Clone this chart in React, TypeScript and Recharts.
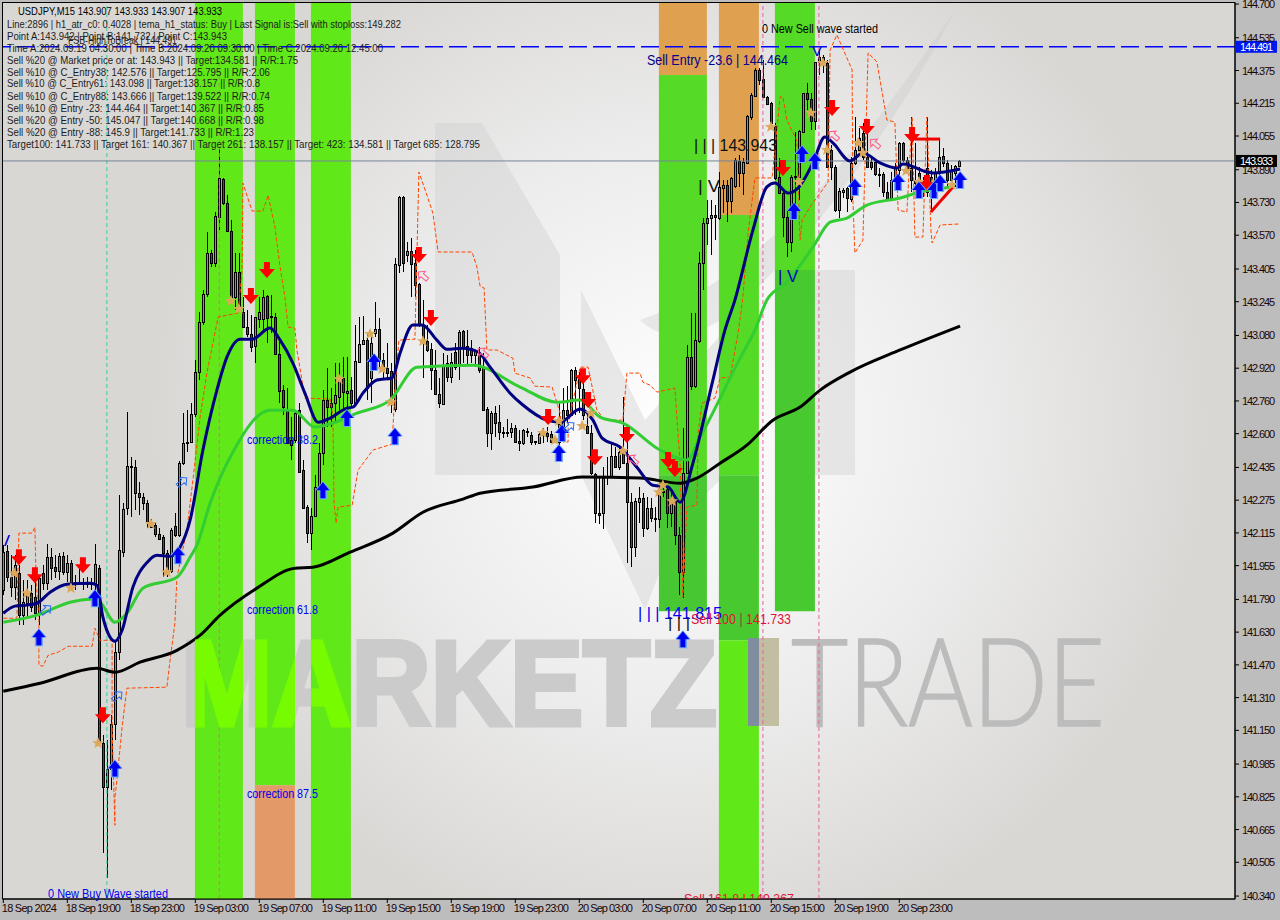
import React from 'react';
import {
  ComposedChart,
  Bar,
  Line,
  Scatter,
  XAxis,
  YAxis,
  ReferenceArea,
  ReferenceLine,
} from 'recharts';

// USDJPY M15 candles, one value per bar
const opens = [
  141.835, 142.026, 141.898, 141.85, 141.918, 141.713, 141.771, 141.82, 141.801, 141.722, 141.918, 141.869, 141.996, 141.947, 141.928, 142.001, 141.923, 141.967, 141.874, 141.869,
  141.869, 141.869, 141.864, 141.869, 141.942, 141.087, 140.872, 140.96, 141.18, 141.532, 142.021, 142.236, 142.436, 142.436, 142.309, 142.29, 142.26, 142.167, 142.153, 142.109,
  142.094, 142.016, 141.928, 142.148, 142.104, 142.456, 142.554, 142.559, 142.696, 142.901, 143.145, 143.282, 143.483, 143.434, 143.659, 143.845, 143.727, 143.59, 143.268, 143.39,
  143.194, 143.121, 143.087, 143.028, 143.16, 143.16, 143.273, 143.175, 143.17, 142.989, 142.813, 142.71, 142.568, 142.568, 142.715, 142.422, 142.241, 142.114, 142.197, 142.339,
  142.505, 142.764, 142.749, 142.749, 142.779, 142.872, 142.798, 142.813, 142.749, 142.95, 143.038, 143.057, 142.872, 143.092, 143.111, 142.96, 142.92, 142.906, 142.72, 143.424,
  143.757, 143.473, 143.493, 143.434, 143.331, 143.131, 143.052, 143.013, 142.911, 142.793, 142.744, 142.945, 142.876, 142.999, 142.93, 143.101, 143.028, 143.018, 142.984, 142.984,
  142.92, 142.72, 142.603, 142.7, 142.656, 142.608, 142.608, 142.608, 142.627, 142.564, 142.554, 142.612, 142.593, 142.564, 142.554, 142.612, 142.603, 142.598, 142.578, 142.559,
  142.627, 142.715, 142.691, 142.911, 142.867, 142.818, 142.637, 142.603, 142.402, 142.211, 142.211, 142.387, 142.387, 142.49, 142.436, 142.51, 142.456, 142.265, 142.045, 142.265,
  142.285, 142.138, 142.236, 142.187, 142.182, 142.314, 142.329, 142.211, 142.275, 142.104, 141.923, 142.407, 142.974, 142.832, 143.052, 143.434, 143.63, 143.654, 143.669, 143.654,
  143.801, 143.815, 143.737, 143.81, 143.933, 143.874, 143.923, 144.148, 144.251, 144.378, 144.334, 144.246, 144.216, 144.104, 143.854, 143.776, 143.659, 143.537, 143.854, 143.854,
  144.075, 144.265, 144.236, 144.128, 144.417, 144.441, 144.412, 143.987, 143.903, 143.693, 143.781, 143.801, 143.747, 143.923, 143.987, 144.07, 143.952, 143.928, 143.928, 143.869,
  143.869, 143.781, 143.752, 143.84, 143.889, 144.021, 143.938, 143.898, 143.84, 143.874, 143.83, 143.898, 143.854, 143.806, 143.874, 143.957, 143.923, 143.84, 143.874, 143.908,
];
const highs = [
  142.055, 142.055, 142.006, 142.006, 141.957, 141.884, 141.884, 141.859, 141.884, 141.908, 141.957, 142.06, 142.04, 142.006, 142.016, 142.021, 142.006, 141.982, 141.908, 141.942,
  141.894, 141.898, 141.894, 142.06, 141.957, 141.126, 141.101, 141.224, 141.59, 142.299, 142.26, 142.705, 142.485, 142.471, 142.363, 142.309, 142.275, 142.182, 142.167, 142.138,
  142.104, 142.031, 142.138, 142.211, 142.466, 142.7, 142.715, 142.749, 142.96, 143.194, 143.302, 143.586, 143.498, 143.683, 143.996, 143.85, 143.766, 143.644, 143.483, 143.483,
  143.268, 143.204, 143.18, 143.17, 143.268, 143.302, 143.277, 143.277, 143.189, 143.048, 142.837, 142.823, 142.681, 142.715, 142.749, 142.471, 142.25, 142.236, 142.397, 142.554,
  142.813, 142.92, 142.823, 142.945, 142.945, 142.974, 142.974, 142.876, 143.131, 143.17, 143.175, 143.097, 143.082, 143.243, 143.165, 142.994, 143.043, 142.945, 143.458, 143.762,
  143.762, 143.537, 143.556, 143.498, 143.336, 143.253, 143.131, 143.043, 143.009, 142.872, 142.994, 142.984, 142.994, 143.043, 143.106, 143.106, 143.106, 143.057, 143.009, 143.023,
  142.994, 142.73, 142.71, 142.735, 142.74, 142.632, 142.671, 142.652, 142.642, 142.617, 142.622, 142.627, 142.608, 142.564, 142.603, 142.627, 142.632, 142.612, 142.583, 142.749,
  142.823, 142.832, 142.916, 142.925, 142.901, 142.862, 142.7, 142.642, 142.407, 142.383, 142.436, 142.485, 142.554, 142.534, 142.544, 142.779, 142.632, 142.309, 142.285, 142.339,
  142.309, 142.29, 142.285, 142.241, 142.358, 142.363, 142.339, 142.309, 142.29, 142.143, 142.627, 143.033, 143.189, 143.189, 143.488, 143.654, 143.742, 143.742, 143.717, 143.879,
  143.84, 143.84, 143.854, 143.947, 143.962, 143.947, 144.158, 144.265, 144.387, 144.387, 144.427, 144.251, 144.221, 144.119, 143.947, 143.791, 143.693, 143.864, 144.075, 144.084,
  144.265, 144.314, 144.265, 144.417, 144.476, 144.451, 144.427, 144.011, 143.913, 143.801, 143.801, 143.806, 143.952, 144.148, 144.094, 144.119, 144.094, 143.947, 143.938, 143.898,
  143.879, 143.83, 143.879, 143.923, 144.026, 144.026, 143.952, 144.148, 144.021, 143.903, 143.854, 144.148, 143.889, 143.898, 144.035, 143.996, 143.938, 143.913, 143.913, 143.938,
];
const lows = [
  141.81, 141.874, 141.801, 141.786, 141.664, 141.664, 141.698, 141.727, 141.688, 141.664, 141.835, 141.835, 141.884, 141.894, 141.884, 141.908, 141.874, 141.835, 141.835, 141.859,
  141.835, 141.845, 141.835, 141.835, 141.077, 140.549, 140.427, 140.857, 141.101, 141.493, 141.996, 142.202, 142.192, 142.226, 142.202, 142.226, 142.138, 142.138, 142.094, 142.079,
  141.898, 141.898, 141.918, 142.094, 142.094, 142.446, 142.51, 142.554, 142.681, 142.862, 143.131, 143.268, 143.414, 143.414, 143.595, 143.717, 143.586, 143.268, 143.204, 143.204,
  143.121, 143.072, 142.999, 142.945, 143.116, 143.106, 143.043, 143.092, 142.984, 142.749, 142.691, 142.554, 142.471, 142.554, 142.412, 142.236, 142.065, 142.031, 142.192, 142.29,
  142.446, 142.632, 142.632, 142.656, 142.715, 142.715, 142.7, 142.73, 142.74, 142.945, 143.033, 142.764, 142.749, 143.072, 142.925, 142.872, 142.862, 142.7, 142.705, 143.385,
  143.39, 143.439, 143.268, 143.268, 143.121, 142.872, 142.999, 142.813, 142.788, 142.725, 142.74, 142.852, 142.847, 142.911, 142.862, 142.945, 142.935, 142.945, 142.935, 142.896,
  142.715, 142.534, 142.52, 142.583, 142.568, 142.578, 142.583, 142.578, 142.559, 142.515, 142.544, 142.583, 142.544, 142.544, 142.554, 142.554, 142.559, 142.554, 142.554, 142.534,
  142.608, 142.652, 142.691, 142.691, 142.7, 142.666, 142.598, 142.397, 142.163, 142.158, 142.133, 142.348, 142.383, 142.431, 142.422, 142.451, 141.967, 141.947, 141.996, 142.163,
  142.094, 142.128, 142.167, 142.118, 142.138, 142.29, 142.138, 142.143, 142.055, 141.81, 141.796, 142.402, 142.813, 142.823, 143.043, 143.302, 143.522, 143.473, 143.546, 143.644,
  143.678, 143.634, 143.678, 143.801, 143.806, 143.766, 143.918, 144.133, 144.246, 144.304, 144.241, 144.207, 144.109, 143.84, 143.771, 143.561, 143.463, 143.488, 143.708, 143.742,
  144.07, 144.182, 144.084, 144.084, 144.353, 144.363, 143.903, 143.84, 143.683, 143.654, 143.752, 143.683, 143.732, 143.913, 143.977, 143.938, 143.903, 143.889, 143.859, 143.806,
  143.757, 143.742, 143.742, 143.83, 143.806, 143.928, 143.889, 143.781, 143.791, 143.757, 143.757, 143.757, 143.683, 143.757, 143.854, 143.903, 143.806, 143.825, 143.806, 143.908,
];
const closes = [
  142.021, 141.898, 141.85, 141.957, 141.713, 141.776, 141.82, 141.752, 141.722, 141.894, 141.869, 141.996, 141.942, 141.928, 142.001, 141.923, 141.967, 141.869, 141.869, 141.874,
  141.864, 141.864, 141.869, 141.962, 141.087, 140.872, 140.96, 141.18, 141.532, 142.031, 142.231, 142.441, 142.441, 142.309, 142.29, 142.26, 142.167, 142.143, 142.109, 142.084,
  142.016, 141.928, 142.128, 142.104, 142.456, 142.554, 142.559, 142.696, 142.901, 143.145, 143.282, 143.483, 143.434, 143.664, 143.85, 143.727, 143.59, 143.268, 143.39, 143.219,
  143.121, 143.087, 143.023, 143.17, 143.194, 143.268, 143.165, 143.17, 142.989, 142.808, 142.73, 142.554, 142.544, 142.7, 142.412, 142.236, 142.114, 142.197, 142.339, 142.505,
  142.764, 142.73, 142.73, 142.788, 142.867, 142.803, 142.808, 142.749, 142.955, 143.038, 143.057, 142.823, 143.043, 143.111, 142.96, 142.911, 142.896, 142.774, 143.429, 143.757,
  143.434, 143.493, 143.429, 143.326, 143.131, 143.062, 143.009, 142.911, 142.793, 142.749, 142.935, 142.876, 142.95, 142.925, 143.097, 143.023, 142.984, 142.984, 143.004, 142.911,
  142.715, 142.603, 142.7, 142.652, 142.608, 142.603, 142.603, 142.627, 142.559, 142.554, 142.617, 142.608, 142.559, 142.559, 142.598, 142.593, 142.588, 142.559, 142.564, 142.647,
  142.715, 142.691, 142.911, 142.862, 142.823, 142.691, 142.603, 142.407, 142.211, 142.202, 142.383, 142.392, 142.49, 142.436, 142.51, 142.456, 142.265, 142.045, 142.27, 142.285,
  142.138, 142.236, 142.187, 142.182, 142.314, 142.319, 142.211, 142.275, 142.104, 141.923, 142.407, 142.974, 142.832, 143.057, 143.434, 143.63, 143.654, 143.669, 143.659, 143.806,
  143.815, 143.737, 143.85, 143.938, 143.874, 143.928, 144.153, 144.255, 144.378, 144.329, 144.246, 144.211, 144.119, 143.85, 143.776, 143.659, 143.537, 143.854, 143.859, 144.079,
  144.265, 144.236, 144.128, 144.417, 144.441, 144.412, 143.903, 143.903, 143.693, 143.786, 143.791, 143.752, 143.923, 143.987, 144.045, 143.952, 143.903, 143.903, 143.869, 143.864,
  143.781, 143.747, 143.84, 143.903, 144.021, 143.938, 143.898, 143.84, 143.825, 143.806, 143.791, 143.781, 143.757, 143.874, 143.952, 143.923, 143.84, 143.889, 143.908, 143.933,
];

// moving averages, read at the bends only
const navyAt = [0, 2.9, 5.9, 8.4, 11.7, 15.9, 21.7, 23.4, 24.9, 26.7, 27.9, 29.7, 32.4, 36, 38.4, 41.7, 44.2, 46.7, 49.9, 53.4, 55.9, 59.2, 62.2, 66.7, 69.2, 72.4, 75.4, 78.7, 81.7, 85.9, 87.4, 89.9, 93.4, 97.2, 99.2, 102.4, 104.7, 108.4, 110.9, 114.9, 118.7, 121.7, 126.7, 129.9, 135.9, 139.2, 144.2, 147.4, 149.7, 154.2, 158.4, 162.4, 166.2, 169.2, 172.4, 177.4, 180.4, 182.9, 187.4, 190.9, 192.9, 196.2, 198.7, 202.4, 205.4, 207.4, 211.7, 214.9, 219.2, 223.4, 224.9, 230.9, 232.4, 239.2];
const navyPrice = [141.722, 141.757, 141.762, 141.771, 141.825, 141.864, 141.869, 141.859, 141.703, 141.605, 141.585, 141.639, 141.85, 141.972, 142.006, 142.001, 142.045, 142.177, 142.52, 142.813, 142.974, 143.062, 143.062, 143.116, 143.057, 142.945, 142.798, 142.656, 142.676, 142.725, 142.73, 142.798, 142.862, 142.872, 142.994, 143.131, 143.131, 143.057, 143.013, 143.018, 142.999, 142.925, 142.798, 142.74, 142.666, 142.656, 142.72, 142.666, 142.578, 142.534, 142.436, 142.348, 142.339, 142.265, 142.456, 142.862, 143.106, 143.253, 143.595, 143.806, 143.825, 143.776, 143.801, 143.923, 144.05, 144.021, 143.933, 143.972, 143.923, 143.898, 143.918, 143.879, 143.874, 143.894];
const greenAt = [0, 8.4, 16.7, 21.7, 24.2, 27.9, 30.9, 34.9, 43.4, 46.7, 48.4, 51.7, 57.4, 66.7, 72.4, 77.9, 82.4, 88.4, 96.7, 103.4, 117.4, 129.2, 138.4, 144.2, 149.2, 154.9, 164.2, 170.9, 174.2, 184.2, 187.9, 190.9, 195.9, 202.4, 206.7, 210.9, 215.9, 224.2, 229.2, 237.2];
const greenPrice = [141.678, 141.713, 141.776, 141.791, 141.776, 141.678, 141.722, 141.845, 141.898, 141.996, 142.055, 142.26, 142.51, 142.715, 142.715, 142.632, 142.652, 142.7, 142.764, 142.925, 142.935, 142.828, 142.754, 142.764, 142.681, 142.652, 142.52, 142.471, 142.583, 142.969, 143.106, 143.253, 143.341, 143.512, 143.634, 143.654, 143.717, 143.752, 143.781, 143.806];
const blackAt = [0, 9.2, 23.4, 27.9, 34.2, 43.4, 49.2, 54.2, 63.4, 72.9, 77.4, 86.7, 97.4, 104.9, 114.9, 119.2, 132.4, 144.9, 159.2, 169.2, 173.4, 179.2, 185.9, 192.4, 199.2, 204.2, 211.7, 224.2, 239.2];
const blackPrice = [141.341, 141.38, 141.453, 141.434, 141.483, 141.541, 141.615, 141.713, 141.845, 141.942, 141.947, 142.021, 142.114, 142.216, 142.28, 142.309, 142.339, 142.388, 142.383, 142.358, 142.383, 142.456, 142.544, 142.666, 142.73, 142.813, 142.901, 143.009, 143.126];

// stepped stop line
const stopAt = [0, 1.7, 3.4, 3.9, 7.2, 7.9, 8.2, 8.9, 8.9, 9.9, 11.2, 13.7, 16.2, 22.2, 22.9, 24.2, 27.2, 27.2, 27.9, 27.9, 28.4, 29.7, 30.9, 40.9, 41.7, 42.9, 43.4, 45.9, 47.4, 49.2, 50.9, 53.7, 58.7, 59.7, 59.9, 62.2, 64.9, 66.2, 67.9, 69.2, 70.4, 71.2, 72.9, 73.4, 75.4, 81.7, 82.4, 82.7, 83.2, 83.7, 87.2, 88.7, 92.4, 97.2, 97.9, 98.9, 102.9, 103.9, 105.9, 107.4, 108.7, 117.2, 118.4, 119.2, 120.2, 120.9, 123.4, 127.4, 127.9, 131.7, 132.9, 137.2, 139.2, 139.9, 141.2, 141.2, 144.2, 146.2, 148.4, 150.4, 154.9, 155.9, 159.2, 159.9, 161.7, 163.4, 167.9, 169.2, 169.9, 170.9, 173.4, 173.7, 174.7, 177.9, 179.2, 181.7, 183.7, 184.9, 186.2, 187.9, 192.2, 194.2, 194.9, 195.9, 198.4, 199.2, 199.7, 201.7, 206.2, 206.7, 208.4, 212.2, 212.4, 212.9, 214.9, 216.2, 218.4, 220.9, 222.9, 223.7, 225.9, 227.2, 227.9, 229.9, 230.9, 231.9, 232.2, 234.2, 239];
const stopPrice = [141.698, 141.698, 141.698, 142.114, 142.114, 142.143, 141.884, 141.688, 141.468, 141.463, 141.517, 141.532, 141.561, 141.561, 141.649, 141.59, 141.59, 141.165, 140.686, 140.823, 140.906, 141.165, 141.356, 141.361, 141.493, 141.674, 141.898, 142.128, 142.373, 142.681, 142.896, 143.17, 143.19, 143.4, 143.825, 143.688, 143.688, 143.766, 143.61, 143.414, 143.268, 143.121, 143.116, 143.009, 142.774, 142.769, 142.681, 142.26, 142.163, 142.241, 142.25, 142.422, 142.52, 142.549, 142.813, 143.057, 143.062, 143.879, 143.766, 143.678, 143.488, 143.488, 143.414, 143.321, 143.312, 143.009, 143.009, 142.969, 142.896, 142.872, 142.832, 142.828, 142.7, 142.559, 142.559, 142.642, 142.925, 142.925, 142.715, 142.666, 142.666, 142.896, 142.896, 142.852, 142.837, 142.803, 142.823, 142.456, 141.801, 142.241, 142.25, 142.603, 142.749, 142.774, 142.872, 142.877, 143.092, 143.268, 143.581, 143.85, 143.85, 144.246, 144.246, 144.133, 144.031, 143.546, 143.644, 143.708, 143.83, 144.476, 144.549, 144.378, 143.742, 143.483, 143.546, 144.461, 144.417, 144.133, 144.123, 143.693, 143.683, 144.148, 143.561, 143.561, 144.148, 143.595, 143.532, 143.62, 143.625];

// signal marks
const sellAt = [3.9, 7.9, 19.9, 24.9, 61.9, 65.9, 103.9, 106.9, 136.2, 144.9, 146.2, 147.9, 155.9, 166.2, 167.9, 194.9, 207.2, 215.9, 227.2, 230.9];
const sellPrice = [141.996, 141.908, 141.957, 141.224, 143.273, 143.4, 143.473, 143.165, 142.681, 142.881, 142.764, 142.485, 142.593, 142.471, 142.427, 143.898, 144.192, 144.099, 144.06, 143.825];
const buyAt = [8.9, 22.9, 43.7, 27.9, 79.9, 85.9, 92.7, 97.9, 138.9, 139.7, 169.9, 197.7, 199.7, 202.9, 212.9, 223.7, 228.9, 232.7, 234.2, 239.2];
const buyPrice = [141.605, 141.796, 142.006, 140.964, 142.324, 142.676, 142.95, 142.588, 142.505, 142.603, 141.595, 143.688, 143.967, 143.933, 143.806, 143.83, 143.791, 143.791, 143.825, 143.84];
const starAt = [2.7, 5.9, 16.9, 23.7, 36.9, 40.9, 56.9, 58.9, 83.9, 91.7, 94.7, 96.9, 104.9, 134.9, 137.9, 138.9, 144.7, 146.9, 154.9, 163.9, 164.9, 167.2, 191.9, 198.9, 201.9, 204.9, 205.9, 213.7, 214.9, 225.7, 228.9, 232.4, 237.2];
const starPrice = [141.918, 141.82, 141.845, 141.087, 142.158, 141.923, 143.248, 143.209, 142.867, 143.087, 142.916, 142.754, 143.052, 142.603, 142.568, 142.661, 142.637, 142.7, 142.515, 142.314, 142.348, 142.27, 144.099, 143.83, 144.167, 144.412, 143.987, 144.021, 143.972, 143.884, 143.83, 143.82, 143.815];
const pinkHintAt = [104.7, 119.7, 157.2, 207.4, 217.7];
const pinkHintPrice = [143.375, 142.999, 142.476, 144.06, 144.021];
const blueHintAt = [10.9, 44.9, 28.7, 141.7];
const blueHintPrice = [141.742, 142.368, 141.321, 142.637];

// red pattern lines at the right end
const flatAt = [227.9, 234.2];
const flatPrice = [144.04, 144.04];
const riseAt = [231.9, 237.4];
const risePrice = [143.683, 143.806];

// zone rectangles in bars and prices
const zoneFrom = [47.9, 62.9, 62.9, 76.9, 163.9, 163.9, 163.9, 178.9, 178.9, 178.9, 178.9, 192.9, 192.9];
const zoneTo = [59.9, 72.9, 72.9, 86.9, 175.9, 175.9, 175.9, 188.9, 188.9, 188.9, 188.9, 202.9, 202.9];
const zoneTop = [144.705, 144.705, 140.881, 144.705, 144.705, 144.353, 142.397, 144.705, 143.669, 142.397, 141.59, 144.705, 143.4];
const zoneBottom = [140.326, 140.881, 140.326, 140.326, 144.353, 142.397, 141.732, 143.669, 142.397, 141.59, 140.326, 143.4, 141.732];
const zoneColors = ['#60e818', '#60e818', '#e49a68', '#60e818', '#dfa050', '#55da25', '#47c832', '#dfa050', '#55da25', '#48c930', '#60e818', '#55da25', '#48c930'];

const priceTicks = [144.7, 144.535, 144.375, 144.215, 144.055, 143.89, 143.73, 143.57, 143.405, 143.245, 143.08, 142.92, 142.76, 142.6, 142.435, 142.275, 142.115, 141.955, 141.79, 141.63, 141.47, 141.31, 141.15, 140.985, 140.825, 140.665, 140.505, 140.34];
const timeTicks = [0, 16, 32, 48, 64, 80, 96, 112, 128, 144, 160, 176, 192, 208, 224];
const timeLabels = ['18 Sep 2024', '18 Sep 19:00', '18 Sep 23:00', '19 Sep 03:00', '19 Sep 07:00', '19 Sep 11:00', '19 Sep 15:00', '19 Sep 19:00', '19 Sep 23:00', '20 Sep 03:00', '20 Sep 07:00', '20 Sep 11:00', '20 Sep 15:00', '20 Sep 19:00', '20 Sep 23:00'];
const dashedBars = [25.9, 54, 189.9, 203.9];

const infoLines = [
  'Line:2896 | h1_atr_c0: 0.4028 | tema_h1_status: Buy | Last Signal is:Sell with stoploss:149.282',
  'Point A:143.942 | Point B:141.732 | Point C:143.943',
  'Time A:2024.09.19 04:30:00 | Time B:2024.09.20 09:30:00 | Time C:2024.09.20 12:45:00',
  'Sell %20 @ Market price or at: 143.943 || Target:134.581 || R/R:1.75',
  'Sell %10 @ C_Entry38: 142.576 || Target:125.795 || R/R:2.06',
  'Sell %10 @ C_Entry61: 143.098 || Target:138.157 || R/R:0.8',
  'Sell %10 @ C_Entry88: 143.666 || Target:139.522 || R/R:0.74',
  'Sell %10 @ Entry -23: 144.464 || Target:140.367 || R/R:0.85',
  'Sell %20 @ Entry -50: 145.047 || Target:140.668 || R/R:0.98',
  'Sell %20 @ Entry -88: 145.9 || Target:141.733 || R/R:1.23',
  'Target100: 141.733 || Target 161: 140.367 || Target 261: 138.157 || Target: 423: 134.581 || Target 685: 128.795',
];
const infoWidths = [394, 220, 376, 291, 263, 253, 263, 257, 257, 247, 473];
const infoRows = [24, 36, 48, 60, 72, 83, 96, 108, 120, 132, 144];

const candles = opens.map((open, k) => ({
  i: k,
  open,
  close: closes[k],
  high: highs[k],
  low: lows[k],
  range: [lows[k], highs[k]],
}));

const points = (at: number[], price: number[]) => at.map((i, k) => ({ i, v: price[k] }));

const FONT = '"Liberation Sans", Arial, sans-serif';

const Candle = (props: any) => {
  const { x, y, width, height, payload } = props;
  const cx = Math.floor(x + width / 2) + 0.5;
  const perUnit = height / (payload.high - payload.low || 1);
  const yOpen = y + (payload.high - payload.open) * perUnit;
  const yClose = y + (payload.high - payload.close) * perUnit;
  const top = Math.min(yOpen, yClose);
  const up = payload.close >= payload.open;
  return (
    <g shapeRendering="crispEdges">
      <line x1={cx} x2={cx} y1={y} y2={y + height} stroke="#000" />
      <rect
        x={cx - 1}
        y={Math.round(top) + 0.5}
        width={2}
        height={Math.max(Math.abs(yClose - yOpen), 1)}
        fill={up ? '#2fc27c' : '#b0203c'}
        stroke="#000"
      />
    </g>
  );
};

const SellArrow = ({ cx, cy }: any) => (
  <path d={`M${cx - 3} ${cy - 8}h6v7h5l-8 9l-8 -9h5z`} fill="#ff0000" />
);

const BuyArrow = ({ cx, cy }: any) => (
  <g>
    <path d={`M${cx} ${cy - 9}l8 9h-4v9h-8v-9h-4z`} fill="#6aa8ff" />
    <path d={`M${cx} ${cy - 8}l6.5 8h-4v8h-5v-8h-4z`} fill="#0000f0" />
  </g>
);

const StarMark = ({ cx, cy }: any) => (
  <path
    d={`M${cx} ${cy - 6}l1.8 4h4.2l-3.4 2.7l1.3 4.3l-3.9 -2.5l-3.9 2.5l1.3 -4.3l-3.4 -2.7h4.2z`}
    fill="#dca85c"
  />
);

const Hint = ({ cx, cy, color, turn }: any) => (
  <path
    d={`M${cx - 7} ${cy - 2}h7v-3l5 5l-5 5v-3h-7z`}
    fill="none"
    stroke={color}
    transform={`rotate(${turn} ${cx} ${cy})`}
  />
);

const PriceTick = ({ x, y, payload }: any) => (
  <text x={x + 1} y={y + 4} fontFamily={FONT} fontSize={11} fill="#1a0508" textLength={33}>
    {payload.value.toFixed(3)}
  </text>
);

const TimeTick = ({ x, y, payload, index }: any) => (
  <text x={x - 1.5} y={y + 7} fontFamily={FONT} fontSize={11} fill="#1a0508" textLength={55}>
    {timeLabels[index ?? timeTicks.indexOf(payload.value)]}
  </text>
);

const PriceBadge = ({ viewBox, text, fill }: any) => (
  <g>
    <rect x={1236} y={viewBox.y - 6} width={41} height={12} fill={fill} />
    <text x={1240} y={viewBox.y + 4} fontFamily={FONT} fontSize={11} fill="#fff" textLength={33}>
      {text}
    </text>
  </g>
);

const Note = ({ x, y, width, size = 12, fill = '#000', children }: any) => (
  <text x={x} y={y} fontFamily={FONT} fontSize={size} fill={fill} textLength={width} lengthAdjust="spacingAndGlyphs">
    {children}
  </text>
);

const wordmark = (markFill: string) => (
  <text
    x={181}
    y={725}
    fontFamily={FONT}
    fontWeight={700}
    fontSize={121}
    fill={markFill}
    stroke={markFill}
    strokeWidth={5}
    strokeLinejoin="miter"
    textLength={536}
    lengthAdjust="spacingAndGlyphs"
  >
    MARKETZ
  </text>
);

const App = () => (
  <div style={{ position: 'absolute', left: 0, top: 0, width: 1280, height: 920, background: '#bdbdbd', overflow: 'hidden' }}>
    <svg width={1280} height={920} style={{ position: 'absolute', left: 0, top: 0 }}>
      <defs>
        <radialGradient id="paper" gradientUnits="userSpaceOnUse" cx={680} cy={430} r={530}>
          <stop offset="0" stopColor="#ffffff" />
          <stop offset="0.55" stopColor="#ececec" />
          <stop offset="1" stopColor="#d9d7d4" />
        </radialGradient>
      </defs>
      <rect x={3} y={3} width={1232} height={896} fill="url(#paper)" />
      <path d="M435 123H482L560 255V475H435Z" fill="#cfcfcf" opacity={0.42} />
      <path d="M581 290L645 420L725 330L725 475L680 520L645 610L581 475Z" fill="#cfcfcf" opacity={0.42} />
      <path d="M775 270H855V475H775Z" fill="#cfcfcf" opacity={0.42} />
      <path d="M640 320C760 280 860 150 955 10C900 120 800 260 720 320C690 340 660 340 640 320Z" fill="#c8c8c8" opacity={0.35} />
      {wordmark('#cbcbcb')}
      <rect x={748} y={638} width={31} height={88} fill="#c2bea2" />
      <text x={791} y={726} fontFamily='"Lato", sans-serif' fontWeight={300} fontSize={123} fill="#bcbcbc" stroke="#bcbcbc" strokeWidth={1.5} textLength={314} lengthAdjust="spacingAndGlyphs">
        TRADE
      </text>
      <rect x={2.5} y={2.5} width={1232.5} height={896.5} fill="none" stroke="#000" />
    </svg>

    <div style={{ position: 'absolute', left: 0, top: 0 }}>
      <ComposedChart
        width={1280}
        height={920}
        data={candles}
        margin={{ top: 3, right: 0, bottom: 0, left: 3 }}
      >
        <XAxis
          dataKey="i"
          type="number"
          domain={[-0.075, 307.925]}
          ticks={timeTicks}
          interval={0}
          height={21}
          tick={<TimeTick />}
          tickSize={4}
          stroke="#000"
          allowDataOverflow
        />
        <YAxis
          orientation="right"
          domain={[140.3256, 144.705]}
          ticks={priceTicks}
          interval={0}
          width={45}
          tick={<PriceTick />}
          tickSize={4}
          stroke="#000"
          allowDataOverflow
        />
        {zoneFrom.map((from, k) => (
          <ReferenceArea
            key={k}
            x1={from}
            x2={zoneTo[k]}
            y1={zoneBottom[k]}
            y2={zoneTop[k]}
            fill={zoneColors[k]}
            fillOpacity={1}
            stroke="none"
          />
        ))}
        {dashedBars.map((bar, k) => (
          <ReferenceLine
            key={bar}
            x={bar}
            stroke={k === 0 ? '#2fd0a0' : '#e8649c'}
            strokeDasharray="4 3"
          />
        ))}
        <ReferenceLine
          y={144.491}
          stroke="#0000ff"
          strokeWidth={1.4}
          strokeDasharray="18 6"
          label={<PriceBadge text="144.491" fill="#0018f0" />}
        />
        <ReferenceLine
          y={143.933}
          stroke="#76859a"
          label={<PriceBadge text="143.933" fill="#000" />}
        />
        <Line data={points(stopAt, stopPrice)} dataKey="v" type="linear" stroke="#ff4500" strokeWidth={1} strokeDasharray="4 2" dot={false} isAnimationActive={false} />
        <Bar dataKey="range" barSize={3} shape={<Candle />} isAnimationActive={false} />
        <Line data={points(blackAt, blackPrice)} dataKey="v" type="monotone" stroke="#000" strokeWidth={3} dot={false} isAnimationActive={false} />
        <Line data={points(greenAt, greenPrice)} dataKey="v" type="monotone" stroke="#32cd32" strokeWidth={3} dot={false} isAnimationActive={false} />
        <Line data={points(navyAt, navyPrice)} dataKey="v" type="monotone" stroke="#000080" strokeWidth={3} dot={false} isAnimationActive={false} />
        <Line data={points(flatAt, flatPrice)} dataKey="v" type="linear" stroke="#f00000" strokeWidth={3} dot={false} isAnimationActive={false} />
        <Line data={points(riseAt, risePrice)} dataKey="v" type="linear" stroke="#f00000" strokeWidth={3} dot={false} isAnimationActive={false} />
        <Scatter data={points(starAt, starPrice)} dataKey="v" shape={<StarMark />} isAnimationActive={false} />
        <Scatter data={points(sellAt, sellPrice)} dataKey="v" shape={<SellArrow />} isAnimationActive={false} />
        <Scatter data={points(buyAt, buyPrice)} dataKey="v" shape={<BuyArrow />} isAnimationActive={false} />
        <Scatter data={points(pinkHintAt, pinkHintPrice)} dataKey="v" shape={<Hint color="#ff5c8a" turn={220} />} isAnimationActive={false} />
        <Scatter data={points(blueHintAt, blueHintPrice)} dataKey="v" shape={<Hint color="#2a6cf0" turn={-40} />} isAnimationActive={false} />
      </ComposedChart>
    </div>

    <svg width={1280} height={920} style={{ position: 'absolute', left: 0, top: 0, pointerEvents: 'none' }}>
      <defs>
        <clipPath id="brightZones">
          <rect x={195} y={630} width={48} height={100} />
          <rect x={255} y={630} width={40} height={100} />
          <rect x={311} y={630} width={40} height={100} />
        </clipPath>
        <clipPath id="plotArea">
          <rect x={3} y={3} width={1232} height={896} />
        </clipPath>
      </defs>
      <g clipPath="url(#brightZones)">{wordmark('#76fb00')}</g>
      <rect x={748} y={638} width={11} height={88} fill="#7f8d9e" />

      <Note x={18} y={15} width={204} size={11.5}>USDJPY,M15  143.907 143.933 143.907 143.933</Note>
      <Note x={68} y={44} width={109} size={11} fill="#222">FSB-HighToBreak | 144.491</Note>
      {infoLines.map((line, k) => (
        <Note key={k} x={7} y={infoRows[k] + 4} width={infoWidths[k]} size={10.5} fill="#1c1c1c">{line}</Note>
      ))}

      <Note x={762} y={33} width={116} size={12}>0 New Sell wave started</Note>
      <Note x={647} y={65} width={141} size={14} fill="#00008b">Sell Entry -23.6 | 144.464</Note>
      <Note x={694} y={151} width={83} size={17} fill="#111">| | | 143.943</Note>
      <Note x={698} y={192} width={22} size={17} fill="#111">| V</Note>
      <Note x={778} y={282} width={20} size={17} fill="#0000c0">| V</Note>
      <Note x={812} y={56} width={10} size={14} fill="#0000c0">V</Note>
      <Note x={4} y={546} width={6} size={14} fill="#0000e0">/</Note>
      <Note x={638} y={619} width={84} size={17} fill="#0000ee">| | | 141.815</Note>
      <Note x={668} y={628} width={22} size={15} fill="#111">| | |</Note>
      <Note x={691} y={624} width={100} size={14} fill="#dc143c">Sell 100 | 141.733</Note>
      <Note x={247} y={444} width={71} size={12} fill="#0000ee">correction 38.2</Note>
      <Note x={247} y={614} width={71} size={12} fill="#0000ee">correction 61.8</Note>
      <Note x={247} y={798} width={71} size={12} fill="#0000ee">correction 87.5</Note>
      <Note x={48} y={898} width={120} size={12} fill="#0000ee">0 New Buy Wave started</Note>
      <g clipPath="url(#plotArea)">
        <Note x={684} y={903} width={110} size={13} fill="#dc143c">Sell 161.8 | 140.367</Note>
      </g>
    </svg>
  </div>
);

export default App;
